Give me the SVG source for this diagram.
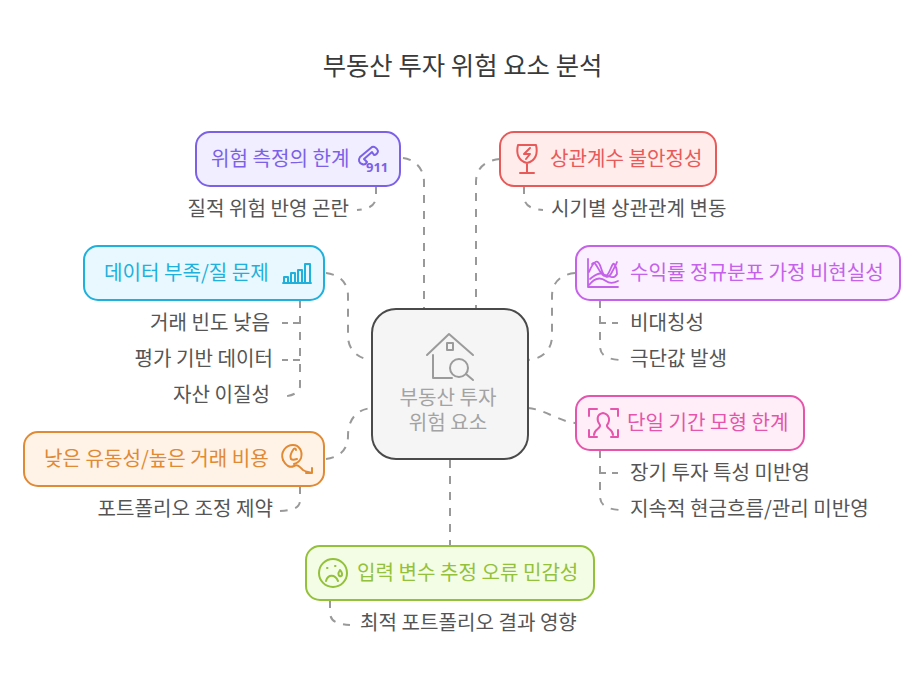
<svg xmlns="http://www.w3.org/2000/svg" width="924" height="684" viewBox="0 0 924 684">
<style>
text{font-family:"Noto Sans CJK KR","Noto Sans",sans-serif;font-size:20.1px;dominant-baseline:alphabetic}
.t{fill:#555}
.c{fill:none;stroke:#999;stroke-width:2;stroke-dasharray:8 8}
.s{fill:none;stroke:#999;stroke-width:2}
.i{fill:none;stroke-width:2;stroke-linecap:round;stroke-linejoin:round}
rect{stroke-width:2}
</style>
<rect width="924" height="684" fill="#fff" style="stroke:none"/>
<text x="462.500" y="75" text-anchor="middle" style="font-size:25.4px;fill:#3a3a3a">부동산 투자 위험 요소 분석</text>
<g id="connectors">
<path class="c" d="M403 158C412 159 424 166 424 182V308"/>
<path class="c" d="M500 159C488 160 476 166 476 182V308"/>
<path class="c" d="M326 273C336 274 348 280 348 296V336C348 350 358 359 372 360"/>
<path class="c" d="M575 273C564 274 552 280 552 296V336C552 350 542 359 528 360"/>
<path class="c" d="M326 459C336 458 348 452 348 436C348 418 358 409 372 408"/>
<path class="c" d="M528 408C544 409 560 422 576 423"/>
<path class="c" d="M450 460V546"/>
<path class="c" d="M376 186V196C376 205 370 209 357 210"/>
<path class="c" d="M524 186V196C524 205 530 209 543 210"/>
<path class="c" d="M300 300V386C300 392 294 396 280 397"/>
<path class="s" d="M282 323H288M293 323H300"/>
<path class="s" d="M282 360H288M293 360H300"/>
<path class="c" d="M600 300V346C600 355 606 359 620 360"/>
<path class="s" d="M600 323H606M612 323H618"/>
<path class="c" d="M600 450V496C600 505 606 509 620 510"/>
<path class="s" d="M600 473H606M612 473H618"/>
<path class="c" d="M300 486V500C300 508 294 510 280 511"/>
<path class="c" d="M330 600V612C330 621 336 624 350 625"/>
</g>
<g id="center">
<rect x="372" y="309" width="156" height="150" rx="24" fill="#f5f5f5" stroke="#4a4a4a"/>
<g class="i" stroke="#9b9b9b">
<path d="M427 355L449 334L473 355M433 355V378H452M447 343h6v7h-6z"/>
<circle cx="459" cy="368" r="9"/><path d="M466 374L473 380"/>
</g>
<text text-anchor="middle" fill="#a3a3a3"><tspan x="448" y="405">부동산 투자</tspan><tspan x="448" y="430">위험 요소</tspan></text>
</g>
<g id="n1">
<rect x="196" y="132" width="204" height="54" rx="14" fill="#f0eeff" stroke="#7b61e8"/>
<text x="211" y="166" fill="#7b61e8">위험 측정의 한계</text>
<path class="i" stroke="#7b61e8" d="M360 157L372 147C374 146 377 148 378 151C378 153 376 155 374 155L372 152L364 159L367 162C366 164 364 165 362 164C359 163 358 160 360 157Z"/>
<text x="366" y="172" style="font-size:13px;font-weight:700;font-family:'Noto Sans',sans-serif" fill="#7b61e8">911</text>
</g>
<g id="n1a"><text x="349" y="216" text-anchor="end" class="t">질적 위험 반영 곤란</text></g>
<g id="n2">
<rect x="500" y="132" width="216" height="54" rx="14" fill="#ffeceb" stroke="#e85a5a"/>
<g class="i" stroke="#e85a5a"><path d="M518 145H536C538 153 536 161 527 163C518 161 516 153 518 145ZM527 163V173M520 173H534M530 148L524 154L530 154L526 159"/></g>
<text x="550" y="166" fill="#e85a5a">상관계수 불안정성</text>
</g>
<g id="n2a"><text x="551" y="216" class="t">시기별 상관관계 변동</text></g>
<g id="n3">
<rect x="84" y="246" width="240" height="54" rx="14" fill="#e8f8fe" stroke="#1fb0dc"/>
<text x="104" y="280" fill="#1fb0dc">데이터 부족/질 문제</text>
<g class="i" stroke="#1fb0dc"><path d="M283 283H311M284 283V277H288V283M291 283V273H295V283M298 283V270H302V283M305 283V264H310V283"/></g>
</g>
<g id="n3a"><text x="270" y="330" text-anchor="end" class="t">거래 빈도 낮음</text></g>
<g id="n3b"><text x="273" y="366" text-anchor="end" class="t">평가 기반 데이터</text></g>
<g id="n3c"><text x="270" y="402" text-anchor="end" class="t">자산 이질성</text></g>
<g id="n4">
<rect x="576" y="246" width="324" height="54" rx="14" fill="#fbf0ff" stroke="#c462ea"/>
<g class="i" stroke="#c462ea" style="stroke-width:1.800"><path d="M588 259V287H618M589 272C594 260 598 258 601 268C604 278 608 280 612 272C614 268 616 265 617 262M592 264C596 258 600 278 606 276C610 274 612 262 614 264C616 266 617 270 617 274C614 280 608 276 603 274C598 272 594 276 590 279M589 285C596 276 602 278 606 281C610 284 614 283 618 281"/></g>
<text x="630" y="280" fill="#c462ea">수익률 정규분포 가정 비현실성</text>
</g>
<g id="n4a"><text x="630" y="330" class="t">비대칭성</text></g>
<g id="n4b"><text x="630" y="366" class="t">극단값 발생</text></g>
<g id="n5">
<rect x="24" y="432" width="300" height="54" rx="14" fill="#fff2e6" stroke="#e08a35"/>
<text x="44" y="466" fill="#e08a35">낮은 유동성/높은 거래 비용</text>
<g class="i" stroke="#e08a35"><path d="M283 460C280 452 286 445 293 445C299 445 303 451 301 458C300 461 297 463 294 464"/><path d="M296 450C296 448 294 448 293 450C291 453 290 457 291 459C292 460 294 460 297 459M283 460C286 466 290 468 294 466C298 464 300 467 303 470C306 472 309 472 312 473M306 473H312V468"/></g>
</g>
<g id="n5a"><text x="273" y="516" text-anchor="end" class="t">포트폴리오 조정 제약</text></g>
<g id="n6">
<rect x="576" y="396" width="228" height="54" rx="14" fill="#ffeef8" stroke="#e455ab"/>
<g class="i" stroke="#e455ab"><path d="M589 416V409H597M611 409H618V416M589 430V437H597M611 437H618V430M594 435C594 429 601 429 600 425C596 420 597 414 603 413C609 414 611 420 607 425C606 429 613 429 613 435"/></g>
<text x="627" y="430" fill="#e455ab">단일 기간 모형 한계</text>
</g>
<g id="n6a"><text x="630" y="480" class="t">장기 투자 특성 미반영</text></g>
<g id="n6b"><text x="630" y="516" class="t">지속적 현금흐름/관리 미반영</text></g>
<g id="n7">
<rect x="306" y="546" width="288" height="54" rx="14" fill="#f3fce4" stroke="#93c13a"/>
<g class="i" stroke="#93c13a"><circle cx="333" cy="573" r="14"/><path d="M326 581C328 574 335 574 338 581M327 568h.5M335 566h.5M340 570C337 574 339 577 341 576C343 575 342 572 340 570Z"/></g>
<text x="357" y="580" fill="#93c13a">입력 변수 추정 오류 민감성</text>
</g>
<g id="n7a"><text x="360" y="630" class="t">최적 포트폴리오 결과 영향</text></g>
</svg>
